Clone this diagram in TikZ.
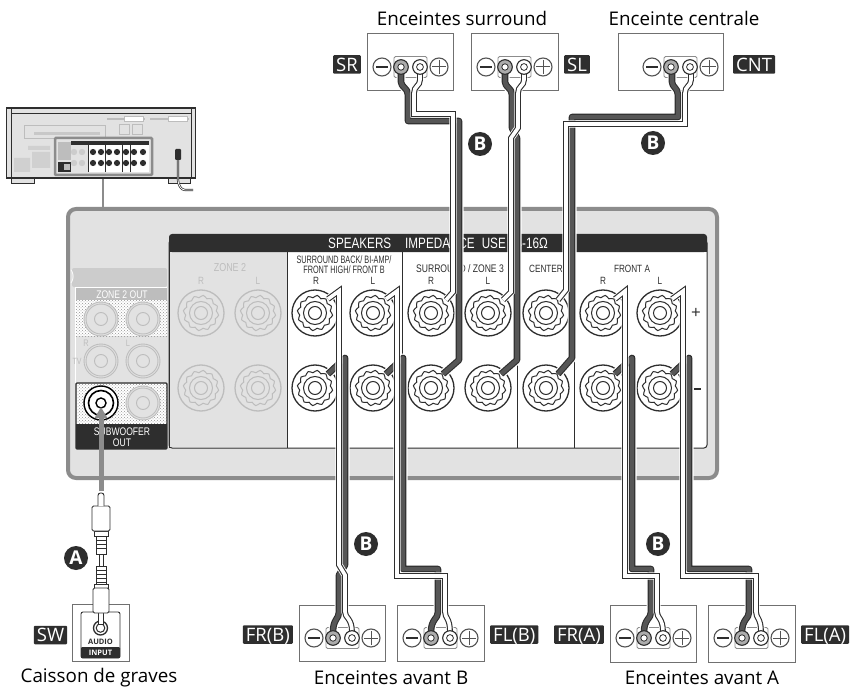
\documentclass[tikz,border=0pt]{standalone}
\usepackage{fontspec}
\setmainfont{Open Sans}
\newfontfamily\condf[FakeStretch=0.78]{Liberation Sans}
\newfontfamily\narrowf[FakeStretch=0.68]{Liberation Sans}
\usetikzlibrary{arrows.meta,patterns}
\newcommand\fsz[1]{\fontsize{#1}{#1}\selectfont}
\definecolor{panelgray}{HTML}{E2E2E2}
\definecolor{rimgray}{HTML}{8C8C8C}
\definecolor{inkdark}{HTML}{2E2E2E}
\definecolor{wiredk}{HTML}{565656}
\definecolor{faint}{HTML}{BDBDBD}
\tikzset{
  wirehalo/.style={draw=white,line width=9,line join=round},
  wirehalow/.style={draw=white,line width=7.4,line join=miter,miter limit=10},
  wiredark/.style={draw=inkdark,line width=6.6,line join=round},
  wiredarkin/.style={draw=wiredk,line width=4.4,line join=round},
  wirewo/.style={draw=inkdark,line width=5.8,line join=miter,miter limit=10},
  wirewi/.style={draw=white,line width=3.6,line join=miter,miter limit=10},
  caption/.style={font=\fsz{18.8},text=black,inner sep=0},
  tag/.style={fill=inkdark,rounded corners=1,text=white,font=\fsz{18.5},minimum height=18.5,inner xsep=3,inner ysep=0,text height=13.5,text depth=0},
  small/.style={font=\condf\fsz{10.5},text=inkdark,inner sep=0},
  tiny/.style={font=\narrowf\fsz{10.7},text=inkdark,inner sep=0},
  fainttext/.style={font=\condf\fsz{11},text=faint,inner sep=0},
  bullet/.style={circle,fill=inkdark,text=white,minimum size=24,inner sep=0,font=\bfseries\fsz{19}},
  head/.style={font=\condf\fsz{15},text=white,inner sep=0},
}
% binding post
\newcommand\bpost[3]{%
  \begin{scope}[shift={(#1,#2)},draw=#3,line width=1]
    \draw[line width=1.3] (0,0) circle (23);
    \draw plot[smooth cycle,samples=48,domain=0:352.5] (\x:{16.6+1.2*sin(12*\x)});
    \draw (0,0) circle (11.5);
    \draw (0,0) circle (6.5);
  \end{scope}}
% RCA ring
\newcommand\ring[3]{%
  \begin{scope}[shift={(#1,#2)},draw=#3,line width=.9,fill=panelgray]
    \filldraw (0,0) circle (17);
    \draw (0,0) circle (15);
    \draw (0,0) circle (6.5);
  \end{scope}}
% speaker box: x y width offset height
\newcommand\spkbody[5]{%
  \draw[draw=rimgray!80!black,line width=1,fill=white] (#1,#2) rectangle ++(#3,#5);
  \begin{scope}[shift={(#1,#2)}]
    \draw[draw=rimgray,line width=.8,rounded corners=1.5] (#4+27,22.5) rectangle (#4+60,43.5);
    \draw[draw=rimgray!60!black,line width=1.1,fill=white] (#4+15,33) circle (9);
    \draw[draw=inkdark,line width=2.4] (#4+9,33) -- (#4+21,33);
    \draw[draw=rimgray!60!black,line width=1.1,fill=white] (#4+72,33) circle (9);
    \draw[draw=rimgray!60!black,line width=1] (#4+65,33) -- (#4+79,33) (#4+72,26) -- (#4+72,40);
  \end{scope}}
\newcommand\spkterm[3]{%
  \begin{scope}[shift={(#1,#2)}]
    \draw[draw=inkdark,line width=1.1,fill=gray!65] (#3+34,33) circle (7.3);
    \draw[draw=inkdark,line width=.8,fill=white] (#3+34,33) circle (3.2);
    \draw[draw=inkdark,line width=1.1,fill=white] (#3+53,33) circle (7.3);
    \draw[draw=inkdark,line width=.8,fill=white] (#3+53,33) circle (3.4);
  \end{scope}}
\newcommand\dwire[1]{\draw[wirehalo] #1; \draw[wiredark] #1; \draw[wiredarkin] #1;}
\newcommand\wwire[1]{\draw[wirehalow] #1; \draw[wirewo] #1; \draw[wirewi] #1;}
\begin{document}
\begin{tikzpicture}[x=1pt,y=-1pt]
\useasboundingbox (0,0) rectangle (854,695);
\fill[white] (0,0) rectangle (854,695);

% ---------- small receiver ----------
\draw[rimgray,line width=2.5] (103,176) -- (103,209);
\draw[draw=inkdark,line width=.9,fill=panelgray] (11,178) rectangle (34,183);
\draw[draw=inkdark,line width=.9,fill=panelgray] (168,178) rectangle (190,183);
\draw[draw=inkdark,line width=1.1,fill=panelgray] (6.5,108) rectangle (195.5,178);
\draw[draw=inkdark,line width=.5] (11,113) -- (191,113) (11,108) -- (11,178) (191,108) -- (191,178);
\draw[draw=inkdark,line width=1.2] (6.5,108) -- (195.5,108) (6.5,177.5) -- (195.5,177.5);
\draw[draw=faint,line width=1.6] (107,119) -- (145,119) (150,119) -- (189,119);
\draw[draw=faint,line width=1,fill=white] (124,116.5) rectangle (143,121.5);
\draw[draw=faint,line width=1,fill=white] (168,116.5) rectangle (187,121.5);
\draw[draw=faint,line width=1] (24,126) rectangle (105,139);
\fill[faint!70!panelgray] (34,132) rectangle (100,135);
\draw[draw=faint,line width=1] (119,125) rectangle (129,135) (132,125) rectangle (142,135);
\fill[faint!50!panelgray] (28,146) rectangle (50,150) (32,152) rectangle (50,168) (14,158) rectangle (30,172);
\draw[draw=rimgray,line width=2.5,fill=panelgray,rounded corners=1] (55,138) rectangle (152,175);
\fill[white] (88,145) rectangle (149,172.5);
\fill[inkdark] (71,141) rectangle (149,145);
\fill[faint] (58,142) rectangle (71,160);
\fill[inkdark] (58,162) rectangle (71,172.5);
\fill[faint] (64,164) rectangle (70,170);
\fill[faint!60!panelgray] (74,152) circle (3.2) (82,152) circle (3.2) (74,163) circle (3.2) (82,163) circle (3.2);
\draw[inkdark,line width=.6] (88,145) -- (88,172.5) (105,145) -- (105,172.5) (122,145) -- (122,172.5) (130,145) -- (130,172.5);
\foreach \px in {93,101,109,117,126,134,143}
  \foreach \py in {152,163} \fill[inkdark] (\px,\py) circle (3.1);
\draw[inkdark,line width=2.2,rounded corners=3] (178,150) -- (178,183) -- (182,190) -- (193,190);
\draw[white,line width=.8,rounded corners=3] (178,158) -- (178,183) -- (182,190) -- (193,190);
\fill[inkdark,rounded corners=1] (175,149) rectangle (181,160);

% ---------- main back panel ----------
\draw[draw=rimgray,line width=4,fill=panelgray,rounded corners=8] (68,209) rectangle (717,478);
\fill[gray!40,rounded corners=2] (72,268) -- (167,268) -- (167,287) -- (72,287) -- cycle;
\node[text=white,font=\condf\fsz{14},inner sep=0] (paren) at (72.5,277) {)};
\draw[white,line width=.8] (75,287.5) -- (167,287.5) (75,287.5) -- (75,383);
\fill[faint] (76,288) rectangle (167,300);
\node[font=\condf\fsz{11},text=white,inner sep=0] (zoneout) at (122,294.5) {ZONE 2 OUT};
\fill[white] (76,300) rectangle (167,336);
\fill[pattern=crosshatch dots,pattern color=gray!85] (76,300) rectangle (167,336);
\ring{101}{319}{faint}
\ring{143}{319}{faint}
\node[fainttext,font=\condf\fsz{9.5}] (tvr) at (86,343) {R};
\node[fainttext,font=\condf\fsz{9.5}] (tvl) at (128,343) {L};
\node[fainttext,font=\condf\fsz{9}] (tv) at (77,361) {TV};
\ring{101}{361}{faint}
\ring{143}{361}{faint}
% subwoofer box
\fill[white] (77,384) rectangle (167,424);
\fill[pattern=crosshatch dots,pattern color=gray!85] (77,384) rectangle (167,424);
\fill[inkdark] (76,424) rectangle (167,449);
\draw[inkdark,line width=1.1,rounded corners=1] (76,383) rectangle (167,449);
\ring{143}{403}{faint}
\draw[draw=black,line width=1.4,fill=white] (101,403) circle (17);
\draw[draw=black,line width=1.6,fill=white] (101,403) circle (12.5);
\draw[draw=black,line width=1.4,fill=white] (101,403) circle (5);
\node[font=\condf\fsz{11},text=white,inner sep=0] (subw) at (122,432) {SUBWOOFER};
\node[font=\condf\fsz{11},text=white,inner sep=0] (subo) at (122,443) {OUT};

% speaker panel
\draw[draw=inkdark,line width=1,fill=white,rounded corners=3] (169,240) -- (169,448) -- (707,448) -- (707,240) -- cycle;
\fill[panelgray] (169.6,250) rectangle (287,447.4);
\fill[inkdark,rounded corners=3] (169,234) -- (707,234) -- (707,252) -- (169,252) -- cycle;
\fill[inkdark] (169,242) rectangle (707,252);
\draw[inkdark,line width=1] (169,250) -- (169,448);
\draw[inkdark,line width=.9] (287,252) -- (287,448) (402,252) -- (402,448) (517,252) -- (517,448) (574,252) -- (574,448);
\node[head,anchor=west] (hs) at (328,243.5) {SPEAKERS};
\node[head,anchor=west] (hi) at (405,243.5) {IMPEDANCE\hspace{7pt}USE};
\node[head,anchor=east] (ho) at (548,243.5) {4-16Ω};
\node[fainttext,font=\condf\fsz{11.5}] (z2) at (230,268) {ZONE 2};
\node[fainttext,font=\condf\fsz{10.5}] (z2r) at (201,281) {R};
\node[fainttext,font=\condf\fsz{10.5}] (z2l) at (258,281) {L};
\node[tiny] (sb1) at (344,260) {SURROUND BACK/ BI-AMP/};
\node[tiny] (sb2) at (344,269.5) {FRONT HIGH/ FRONT B};
\node[small,font=\condf\fsz{11}] (szone) at (460,269) {SURROUND / ZONE 3};
\node[small] (cent) at (546,269) {CENTER};
\node[small] (fa) at (632,269) {FRONT A};
\foreach \n/\lx/\lt in {r1/316/R,l1/373/L,r2/431/R,l2/488/L,r3/603/R,l3/660/L}
  \node[small] (lab\n) at (\lx,281) {\lt};
\node[text=inkdark,font=\fsz{17},inner sep=0] (plusm) at (696,313) {+};
\draw[inkdark,line width=2] (693.5,389) -- (700.5,389);

% posts
\foreach \px in {201,258} \foreach \py in {313,388} {\bpost{\px}{\py}{faint}}
\foreach \px in {315,373,431,488,546,603,660} \foreach \py in {313,388} {\bpost{\px}{\py}{inkdark}}

% ---------- speakers ----------
\spkbody{367}{34}{86}{0}{57}
\spkbody{471}{34}{87}{0}{57}
\spkbody{618}{34}{105}{19}{57}
\spkbody{299}{605}{86}{0}{56}
\spkbody{397}{605}{87}{0}{56}
\spkbody{610}{605}{86}{0}{57}
\spkbody{708}{605}{87}{0}{57}

% ---------- wires ----------
\dwire{(401,72) -- (401,82) .. controls (401,87) and (408,88) .. (408,95) -- (408,121) -- (459,121) -- (459,360) -- (443,374)}
\wwire{(420,72) -- (420,80) .. controls (420,86) and (414,86) .. (414,93) -- (414,114) -- (453,114) -- (453,292) -- (446,300)}
\dwire{(505,72) -- (505,82) .. controls (505,87) and (512,88) .. (512,95) -- (512,128) -- (517,138) -- (517,360) -- (501,374)}
\wwire{(524,72) -- (524,80) .. controls (524,86) and (518,86) .. (518,93) -- (518,128) -- (511,138) -- (511,292) -- (503,300)}
\dwire{(672,72) -- (672,82) .. controls (672,87) and (678,88) .. (678,95) -- (678,117) -- (572,117) -- (572,358) -- (558,374)}
\wwire{(691,72) -- (691,80) .. controls (691,86) and (685,86) .. (685,93) -- (685,124) -- (566,124) -- (566,290) -- (558,300)}

\dwire{(328,374) -- (345,358) -- (345,565) -- (339,575) -- (339,612) .. controls (339,619) and (333,619) .. (333,632)}
\wwire{(328,299) -- (339,291) -- (339,565) -- (345,575) -- (345,612) .. controls (345,618) and (352,618) .. (352,632)}
\dwire{(386,374) -- (403,358) -- (403,569) -- (438,569) -- (438,612) .. controls (438,619) and (431,619) .. (431,632)}
\wwire{(386,299) -- (397,291) -- (397,576) -- (445,576) -- (445,612) .. controls (445,618) and (450,618) .. (450,632)}
\dwire{(615,374) -- (632,358) -- (632,569) -- (651,569) -- (651,612) .. controls (651,619) and (644,619) .. (644,632)}
\wwire{(615,299) -- (625,291) -- (625,576) -- (657,576) -- (657,612) .. controls (657,618) and (663,618) .. (663,632)}
\dwire{(672,374) -- (689,358) -- (689,569) -- (749,569) -- (749,612) .. controls (749,619) and (742,619) .. (742,632)}
\wwire{(672,299) -- (683,291) -- (683,576) -- (756,576) -- (756,612) .. controls (756,618) and (761,618) .. (761,632)}

\spkterm{367}{34}{0}
\spkterm{471}{34}{0}
\spkterm{618}{34}{19}
\spkterm{299}{605}{0}
\spkterm{397}{605}{0}
\spkterm{610}{605}{0}
\spkterm{708}{605}{0}

% ---------- subwoofer ----------
\draw[draw=rimgray!80!black,line width=1,fill=white] (72,604) rectangle (129,661);
\draw[draw=inkdark,line width=.9,rounded corners=2,fill=white] (81,612) rectangle (120,658);
\fill[inkdark,rounded corners=1] (81,647) rectangle (120,658);
\draw[inkdark,line width=1.3] (100.5,628) circle (7);
\draw[inkdark,line width=1] (100.5,628) circle (4.3);
\node[font=\bfseries\fsz{7.5},text=inkdark,inner sep=0] (audio) at (100.5,642) {AUDIO};
\node[font=\bfseries\fsz{7.5},text=white,inner sep=0] (inp) at (100.5,652.5) {INPUT};
% plug
\tikzset{plugpart/.style={draw=inkdark,line width=.9,fill=white}}
\draw[plugpart] (98.5,612) rectangle (103.5,624);
\draw[plugpart] (99,553) rectangle (103,570);
\draw[plugpart] (96,566) rectangle (106,585);
\foreach \by in {570,574,578,582} \draw[inkdark,line width=.5] (96,\by) -- (106,\by);
\draw[plugpart] (94,584) rectangle (108,588);
\draw[plugpart,rounded corners=1.5] (93,588) rectangle (109,613);
\draw[plugpart] (96,536) rectangle (106,554);
\foreach \by in {540,544,548} \draw[inkdark,line width=.5] (96,\by) -- (106,\by);
\draw[plugpart] (94,531) rectangle (108,536);
\draw[plugpart,rounded corners=1.5] (92,506) rectangle (110,531);
\draw[plugpart,rounded corners=2.5] (98,506) -- (98,493) -- (104,493) -- (104,506);
% arrow to SUBWOOFER OUT
\coordinate (arrowfoot) at (101,491);
\coordinate (arrowtip) at (101,407);
\draw[rimgray,line width=5,-{Triangle[length=11,width=12]}] (arrowfoot) -- (arrowtip);

% ---------- bullets ----------
\node[bullet] (ba) at (76,558) {A};
\node[bullet] (b1) at (480,144) {B};
\node[bullet] (b2) at (653,143) {B};
\node[bullet] (b3) at (366,544) {B};
\node[bullet] (b4) at (658,544) {B};

% ---------- tags ----------
\node[tag,anchor=east] (tsr) at (361,64.5) {SR};
\node[tag,anchor=west] (tsl) at (564,64.5) {SL};
\node[tag,anchor=west] (tcnt) at (733,64.5) {CNT};
\node[tag] (tsw) at (50.5,635) {SW};
\node[tag,anchor=east] (tfrb) at (293,634.5) {FR(B)};
\node[tag,anchor=west] (tflb) at (490,634.5) {FL(B)};
\node[tag,anchor=east] (tfra) at (604,634.5) {FR(A)};
\node[tag,anchor=west] (tfla) at (801,634.5) {FL(A)};

% ---------- captions ----------
\node[caption] (c1) at (462,18) {Enceintes surround};
\node[caption] (c2) at (684,18) {Enceinte centrale};
\node[caption] (c3) at (99,678) {Caisson de graves};
\node[caption] (c4) at (391,678) {Enceintes avant B};
\node[caption] (c5) at (702,678) {Enceintes avant A};
\end{tikzpicture}
\end{document}
